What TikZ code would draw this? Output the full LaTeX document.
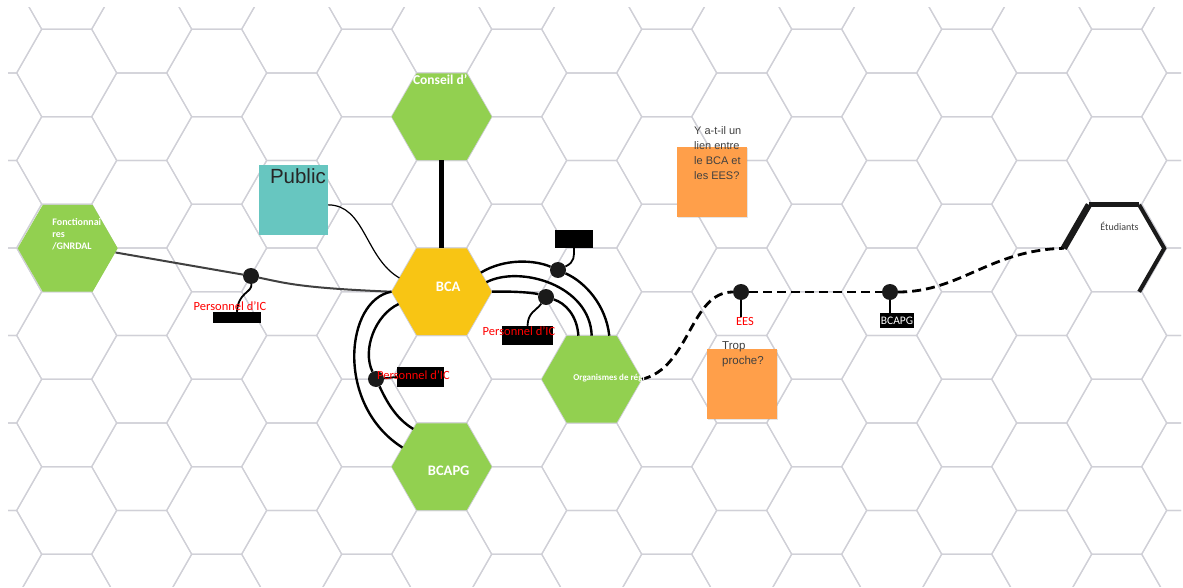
\documentclass[tikz,border=0pt]{standalone}
\usepackage{fontspec}
\setmainfont{Carlito}
\newfontfamily\arialfont{Liberation Sans}
\usepackage{tikz}
\usetikzlibrary{positioning,shapes.geometric,shadows}

\definecolor{hexgreen}{RGB}{146,208,80}
\definecolor{bcayellow}{RGB}{248,197,20}
\definecolor{pubteal}{RGB}{103,198,192}
\definecolor{noteorange}{RGB}{255,159,74}
\definecolor{gridgray}{RGB}{208,208,215}
\definecolor{inkgray}{RGB}{64,64,64}
\definecolor{dotblack}{RGB}{26,26,26}

\begin{document}
\begin{tikzpicture}[
        x=1pt, y=-1pt,
        hexa/.style = {regular polygon, regular polygon sides=6,
                       minimum size=100pt, inner sep=0pt, fill=hexgreen},
        hexlabel/.style = {text=white, inner sep=0pt,
                           font=\bfseries\fontsize{14.5}{17}\selectfont},
        gridline/.style = {draw=gridgray, line width=1.2pt},
        blob/.style = {circle, fill=dotblack, minimum size=16pt, inner sep=0pt},
        blackbox/.style = {rectangle, fill=black, inner sep=0pt},
        redtxt/.style = {text=red, inner sep=0pt, font=\fontsize{12.5}{14}\selectfont},
        sticky/.style = {rectangle, fill=noteorange, minimum width=70pt,
                         minimum height=70pt, inner sep=0pt,
                         drop shadow={opacity=.2, shadow xshift=1pt, shadow yshift=-1pt}},
        notetxt/.style = {anchor=west, align=left, inner sep=0pt, text=inkgray},
        archline/.style = {line width=2.4pt},
        wire/.style = {line width=1.8pt},
        dashline/.style = {line width=2.8pt, dash pattern=on 9pt off 5pt}]

    \useasboundingbox (0,0) rectangle (1183,588);
    \fill[white] (0,0) rectangle (1183,588);

    % honeycomb
    \begin{scope}
        \clip (8,8) rectangle (1181,586);
        \foreach \i in {0,...,16}{
            \foreach \j in {-6,...,2}{
                \pgfmathsetmacro{\hx}{591.7+75*(\i-8)}
                \pgfmathsetmacro{\hy}{466.7+87.5*\j-43.75*isodd(\i)}
                \draw[gridline] (\hx-50,\hy) -- (\hx-25,\hy-43.75) -- (\hx+25,\hy-43.75)
                    -- (\hx+50,\hy) -- (\hx+25,\hy+43.75) -- (\hx-25,\hy+43.75) -- cycle;
            }
        }
    \end{scope}

    \node[hexa, fill=bcayellow] (bca) at (441.7,291.7) {};
    \node[hexa, above of=bca, node distance=175pt] (cons) {};
    \node[hexa, below of=bca, node distance=175pt] (bcapg) {};
    \node[hexa, right of=bca, node distance=150pt, yshift=-87.5pt] (org) {};
    \node[hexa] (fonc) at (67.7,248.3) {};
    \node[hexa, fill=none] (etu) at (1114,248.3) {};

    \node[rectangle, fill=pubteal, minimum width=69pt, minimum height=70pt,
          inner sep=0pt] (pub) at (293.5,200) {};
    \node[sticky] (n1) at (712,182) {};
    \node[sticky] (n2) at (741.5,384) {};

    \node[blob] (d1) at (251,276) {};
    \node[blob] (d2) at (558,270) {};
    \node[blob] (d3) at (546,297) {};
    \node[blob] (d4) at (376,379) {};
    \node[blob] (d5) at (741,292) {};
    \node[blob] (d6) at (890,292) {};

    \node[blackbox, minimum width=48pt, minimum height=11pt] (b1) at (237,317.5) {};
    \node[blackbox, minimum width=38pt, minimum height=18pt] (b2) at (574,239) {};
    \node[blackbox, minimum width=51pt, minimum height=19pt] (b3) at (527.5,335.5) {};
    \node[blackbox, minimum width=47pt, minimum height=20pt] (b4) at (420.5,377) {};
    \node[blackbox, minimum width=34pt, minimum height=15pt, text=white,
          font=\fontsize{11.5}{13}\selectfont] (b6) at (897,320.5) {BCAPG};
    \node[redtxt] (t5) at (745,321) {EES};

    \draw[line width=5pt] (cons) -- (bca);
    \draw[line width=1.2pt] (pub.-8) .. controls (365,205) and (365,258) .. (bca.162);
    \draw[line width=2pt, inkgray] (fonc.-5) -- (d1);
    \draw[line width=2pt, inkgray] (d1) .. controls (285,283) and (300,288) .. (bca.west);

    \draw[archline] (bca.26) .. controls (505,258) and (535,260) .. (d2);
    \draw[archline] (d2) .. controls (585,282) and (606,305) .. (org.68);
    \draw[archline] (bca.12) .. controls (520,265) and (590,285) .. (org.north);
    \draw[archline] (bca.east) .. controls (515,291) and (535,293) .. (d3);
    \draw[archline] (d3) .. controls (565,303) and (577,315) .. (org.107);
    \draw[archline] (bca.west) .. controls (345,300) and (335,405) .. (bcapg.154);
    \draw[archline] (bca.196) .. controls (375,315) and (362,350) .. (d4);
    \draw[archline] (d4) .. controls (386,400) and (395,418) .. (bcapg.127);

    \draw[wire] (d1) .. controls (252,293) and (238,292) .. (b1.north);
    \draw[wire] (d2) .. controls (575,262) and (574,256) .. (b2.south);
    \draw[wire] (d3) .. controls (536,311) and (528,312) .. (b3.north);
    \draw[wire] (d4) -- (b4.west);
    \draw[line width=1.2pt] (d5) -- (d5 |- t5.north);
    \draw[line width=1.2pt] (d6) -- (d6 |- b6.north);

    \draw[dashline] (org.east) .. controls (690,368) and (690,292) .. (d5);
    \draw[dashline] (d5) -- (d6);
    \draw[dashline] (d6) .. controls (960,292) and (990,250) .. (etu.west);

    \draw[line width=6.5pt, dotblack] (etu.180) -- (etu.120);
    \draw[line width=5pt, dotblack] (etu.120) -- (etu.60);
    \draw[line width=4pt, dotblack] (etu.60) -- (etu.0) -- (etu.300);

    \node[hexlabel] (bcatxt) at ([xshift=6.5pt, yshift=4.5pt]bca.center) {BCA};
    \node[hexlabel] (bcapgtxt) at ([xshift=7pt, yshift=-4.5pt]bcapg.center) {BCAPG};
    \node[hexlabel, font=\bfseries\fontsize{13.5}{16}\selectfont]
        (constxt) at ([xshift=-1.5pt, yshift=37pt]cons.center) {Conseil d’};
    \node[hexlabel, anchor=west, font=\bfseries\fontsize{9}{11}\selectfont]
        (orgtxt) at ([xshift=-18.5pt, yshift=1.5pt]org.center) {Organismes de régl};
    \node[hexlabel, anchor=west, align=left, font=\bfseries\fontsize{10}{12}\selectfont]
        (fonctxt) at ([xshift=-15.5pt, yshift=14pt]fonc.center) {Fonctionnai\\res\\/GNRDAL};
    \node[inner sep=0pt, text=inkgray, font=\fontsize{10}{12}\selectfont]
        (etutxt) at ([xshift=5.5pt, yshift=22pt]etu.center) {Étudiants};
    \node[anchor=west, inner sep=0pt, text=black!85, font=\arialfont\fontsize{20.5}{24}\selectfont]
        (pubtxt) at ([xshift=11pt, yshift=-11.7pt]pub.north west) {Public};
    \node[notetxt, font=\arialfont\fontsize{11}{15}\selectfont]
        (n1txt) at ([xshift=-18pt, yshift=28.5pt]n1.center) {Y a-t-il un\\lien entre\\le BCA et\\les EES?};
    \node[notetxt, font=\arialfont\fontsize{11.5}{15}\selectfont]
        (n2txt) at ([xshift=-19.5pt, yshift=29.5pt]n2.center) {Trop\\proche?};

    \node[redtxt] (t1) at (230,306.5) {Personnel d’IC};
    \node[redtxt] (t3) at (519,331) {Personnel d’IC};
    \node[redtxt] (t4) at (413.5,375.5) {Personnel d’IC};
\end{tikzpicture}
\end{document}
